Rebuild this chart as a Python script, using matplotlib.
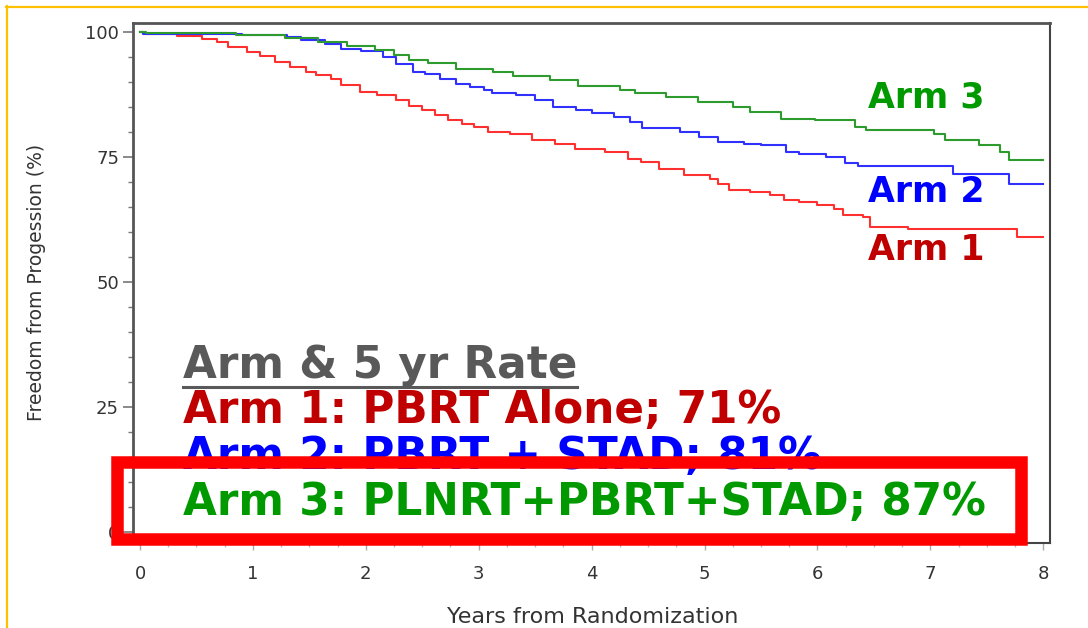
import matplotlib
matplotlib.use('Agg')
import matplotlib.pyplot as plt
from matplotlib.patches import Rectangle
from matplotlib.lines import Line2D
from matplotlib.ticker import MultipleLocator

# Kaplan-Meier step points: (years, freedom from progression %)
arm1_years = [0, 0.04, 0.33, 0.55, 0.68, 0.78, 0.95, 1.06, 1.2, 1.33, 1.47, 1.56, 1.69, 1.78, 1.95,
              2.1, 2.27, 2.38, 2.5, 2.61, 2.73, 2.85, 2.96, 3.08, 3.28, 3.47, 3.68, 3.85, 4.12, 4.32,
              4.44, 4.6, 4.82, 5.05, 5.12, 5.22, 5.4, 5.58, 5.7, 5.84, 6.0, 6.15, 6.23, 6.4, 6.47,
              6.8, 7.77, 8.0]
arm1_pct = [100, 99.7, 99.3, 98.7, 98.1, 97.1, 96.1, 95.2, 94.1, 93.1, 92.1, 91.4, 90.7, 89.4, 88.1,
            87.4, 86.4, 85.2, 84.4, 83.4, 82.4, 81.7, 81.1, 80.1, 79.6, 78.5, 77.7, 76.7, 76.1, 74.7,
            74.1, 72.7, 71.4, 70.7, 69.7, 68.4, 68.1, 67.4, 66.4, 66.1, 65.4, 64.7, 63.5, 63.1, 61.1,
            60.6, 59.0, 59.0]

arm2_years = [0, 0.03, 0.9, 1.3, 1.43, 1.64, 1.78, 1.96, 2.15, 2.27, 2.42, 2.52, 2.66, 2.8, 2.92,
              3.05, 3.12, 3.33, 3.5, 3.66, 3.86, 4.0, 4.2, 4.34, 4.45, 4.78, 4.95, 5.12, 5.35, 5.5,
              5.72, 5.84, 6.08, 6.24, 6.36, 7.2, 7.7, 8.0]
arm2_pct = [100, 99.6, 99.4, 99.1, 98.4, 97.7, 96.7, 96.2, 95.1, 93.7, 92.1, 91.7, 90.7, 89.7, 89.1,
            88.4, 87.9, 87.4, 86.4, 85.1, 84.5, 83.9, 83.1, 82.1, 80.9, 80.1, 79.1, 78.1, 77.6, 77.4,
            76.1, 75.6, 75.1, 73.9, 73.2, 71.6, 69.7, 69.7]

arm3_years = [0, 0.05, 0.85, 1.28, 1.58, 1.83, 2.08, 2.25, 2.38, 2.55, 2.8, 3.13, 3.3, 3.63, 3.88,
              4.25, 4.38, 4.66, 4.94, 5.25, 5.4, 5.68, 5.98, 6.33, 6.43, 7.03, 7.13, 7.43, 7.62,
              7.7, 8.0]
arm3_pct = [100, 99.8, 99.4, 98.9, 98.1, 97.2, 96.4, 95.4, 94.4, 93.9, 92.7, 92.1, 91.2, 90.5, 89.2,
            88.4, 87.9, 87.1, 86.1, 85.1, 84.1, 82.7, 82.4, 81.1, 80.5, 79.7, 78.5, 77.4, 76.1,
            74.5, 74.5]

arm_names = ['Arm 1', 'Arm 2', 'Arm 3']
rate_lines = ['Arm 1: PBRT Alone; 71%',
              'Arm 2: PBRT + STAD; 81%',
              'Arm 3: PLNRT+PBRT+STAD; 87%']
line_colors = ['#FF3030', '#3030FF', '#2E9B2E']
text_colors = ['#C00000', '#0000FF', '#009A00']

W, H = 1088, 628
fig = plt.figure(figsize=(W / 100, H / 100), dpi=100)
fig.patch.set_facecolor('white')

ax = fig.add_axes([133 / W, 1 - 543 / H, (1050 - 133) / W, (543 - 23) / H])
ax.set_xlim(-0.062, 8.06)
ax.set_ylim(-2.2, 101.8)

for yrs, pct, c in zip([arm1_years, arm2_years, arm3_years],
                       [arm1_pct, arm2_pct, arm3_pct], line_colors):
    ax.step(yrs, pct, where='post', color=c, lw=1.5)

# axes styling
for side in ['left', 'top']:
    ax.spines[side].set_linewidth(2.0)
    ax.spines[side].set_color('#555555')
for side in ['right', 'bottom']:
    ax.spines[side].set_linewidth(1.5)
    ax.spines[side].set_color('#444444')

ax.xaxis.set_major_locator(MultipleLocator(1))
ax.xaxis.set_minor_locator(MultipleLocator(0.25))
ax.yaxis.set_minor_locator(MultipleLocator(5))
ax.set_yticks([0, 25, 50, 75, 100])
ax.tick_params(axis='y', which='major', length=7, width=1.2, color='#777777',
               labelsize=13, labelcolor='#333333', pad=3)
ax.tick_params(axis='y', which='minor', length=3.5, width=1.0, color='#777777')
ax.tick_params(axis='x', which='major', length=5, width=1.0, color='#aaaaaa',
               labelsize=13, labelcolor='#333333', pad=11)
ax.tick_params(axis='x', which='minor', length=3, width=1.0, color='#bbbbbb')

fig.text(593 / W, 1 - 623 / H, 'Years from Randomization', ha='center', va='baseline',
         fontsize=16, color='#333333')
fig.text(37 / W, 1 - 282 / H, 'Freedom from Progession (%)', rotation=90,
         ha='center', va='center', fontsize=13.5, color='#333333')

# labels at the right end of the curves
label_pos = [(6.45, 54.4), (6.45, 66.0), (6.45, 84.8)]
for name, (lx, ly), c in zip(arm_names, label_pos, text_colors):
    ax.text(lx, ly, name, fontsize=25, fontweight='bold', color=c,
            ha='left', va='baseline', clip_on=False)

# 5 year rate summary
title = ax.text(0.38, 30.8, 'Arm & 5 yr Rate', fontsize=31.5, fontweight='bold',
                color='#595959', ha='left', va='baseline', clip_on=False)
for txt, y, c in zip(rate_lines, [21.8, 12.6, 3.4], text_colors):
    ax.text(0.38, y, txt, fontsize=31.5, fontweight='bold', color=c,
            ha='left', va='baseline', clip_on=False)

fig.canvas.draw()
bb = title.get_window_extent()
inv = fig.transFigure.inverted()
(ux0, uy), (ux1, _) = inv.transform([(bb.x0, H - 387), (bb.x1, H - 387)])
fig.add_artist(Line2D([ux0, ux1], [uy, uy], color='#595959', lw=2.2))

# highlight box around arm 3
fig.add_artist(Rectangle((116.5 / W, 1 - 539 / H), (1020.5 - 116.5) / W, (539 - 462) / H,
                         fill=False, edgecolor='#FF0000', lw=9, joinstyle='miter', zorder=10))

# slide frame
fig.add_artist(Line2D([6.5 / W, 6.5 / W], [0, 1 - 6 / H], color='#FFC000', lw=1.6))
fig.add_artist(Line2D([6 / W, 1], [1 - 6.5 / H, 1 - 6.5 / H], color='#FFC000', lw=1.6))

fig.savefig('out.png', dpi=100)
